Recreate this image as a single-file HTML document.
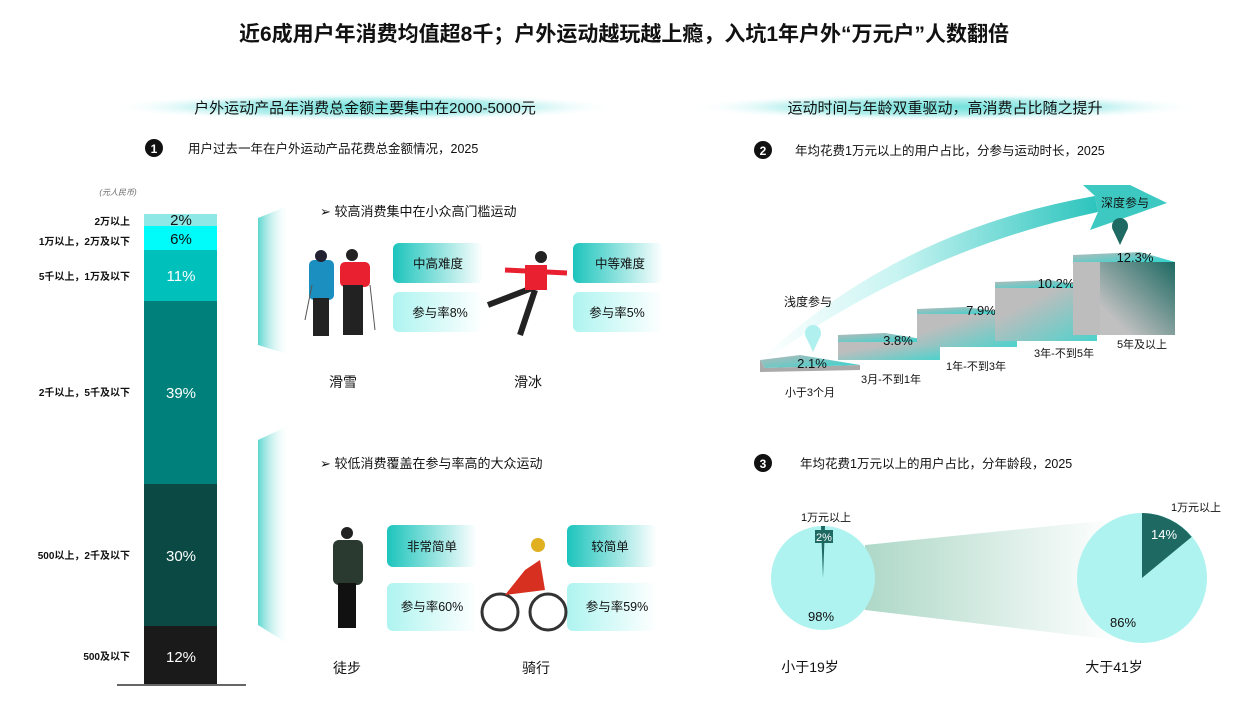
<!DOCTYPE html>
<html><head><meta charset="utf-8"><style>
body{margin:0;background:#fff;}
svg{display:block;font-family:"Liberation Sans","Noto Sans CJK SC",sans-serif;}
</style></head><body>
<svg width="1249" height="720" viewBox="0 0 1249 720">
<defs>
<radialGradient id="rib" cx="0.5" cy="0.5" r="0.5"><stop offset="0" stop-color="#6fe0da"/><stop offset="0.6" stop-color="#b8f0ee"/><stop offset="1" stop-color="#fff" stop-opacity="0"/></radialGradient>
<linearGradient id="tagd" x1="0" x2="1"><stop offset="0" stop-color="#1cc4bc"/><stop offset="1" stop-color="#fff"/></linearGradient>
<linearGradient id="tagl" x1="0" x2="1"><stop offset="0" stop-color="#aef4f0"/><stop offset="1" stop-color="#fff"/></linearGradient>
<linearGradient id="side" x1="0" x2="1"><stop offset="0" stop-color="#5ed6d0"/><stop offset="1" stop-color="#fff" stop-opacity="0"/></linearGradient>
<linearGradient id="conn" x1="0" x2="1"><stop offset="0" stop-color="#aed8c8"/><stop offset="1" stop-color="#fff"/></linearGradient>
<linearGradient id="arrow" x1="0" x2="1"><stop offset="0" stop-color="#fff"/><stop offset="0.4" stop-color="#c8f4f2"/><stop offset="1" stop-color="#2cc4bd"/></linearGradient>
<linearGradient id="boxt" x1="0" x2="1" y1="0" y2="1"><stop offset="0" stop-color="#b8b8b8"/><stop offset="1" stop-color="#2fd6d0"/></linearGradient>
<linearGradient id="boxf" x1="0" x2="1" y1="0" y2="1"><stop offset="0.3" stop-color="#bdbdbd"/><stop offset="1" stop-color="#4dd2cc"/></linearGradient>
<linearGradient id="boxf2" x1="0" x2="1" y1="1" y2="0"><stop offset="0.2" stop-color="#c0c0c0"/><stop offset="1" stop-color="#1e6962"/></linearGradient>
</defs>
<text x="624" y="41" font-size="21" font-weight="bold" text-anchor="middle" fill="#111">近6成用户年消费均值超8千；户外运动越玩越上瘾，入坑1年户外“万元户”人数翻倍</text>
<ellipse cx="365" cy="107" rx="255" ry="14" fill="url(#rib)"/>
<ellipse cx="945" cy="107" rx="255" ry="14" fill="url(#rib)"/>
<text x="365" y="113" font-size="15" text-anchor="middle" fill="#111">户外运动产品年消费总金额主要集中在2000-5000元</text>
<text x="945" y="113" font-size="15" text-anchor="middle" fill="#111">运动时间与年龄双重驱动，高消费占比随之提升</text>
<circle cx="154" cy="148" r="9" fill="#111"/><text x="154" y="153" font-size="12" font-weight="bold" fill="#fff" text-anchor="middle">1</text>
<text x="188" y="153" font-size="12.5" fill="#111">用户过去一年在户外运动产品花费总金额情况，2025</text>
<circle cx="763" cy="150" r="9" fill="#111"/><text x="763" y="155" font-size="12" font-weight="bold" fill="#fff" text-anchor="middle">2</text>
<text x="795" y="155" font-size="12.5" fill="#111">年均花费1万元以上的用户占比，分参与运动时长，2025</text>
<circle cx="763" cy="463" r="9" fill="#111"/><text x="763" y="468" font-size="12" font-weight="bold" fill="#fff" text-anchor="middle">3</text>
<text x="800" y="468" font-size="12.5" fill="#111">年均花费1万元以上的用户占比，分年龄段，2025</text>
<!-- bar -->
<text x="118" y="195" font-size="8" font-style="italic" fill="#666" text-anchor="middle">(元人民币)</text>
<rect x="144" y="214" width="73" height="12" fill="#8ee8e6"/>
<rect x="144" y="226" width="73" height="24" fill="#00fbfb"/>
<rect x="144" y="250" width="73" height="51" fill="#00c0bc"/>
<rect x="144" y="301" width="73" height="183" fill="#00807a"/>
<rect x="144" y="484" width="73" height="142" fill="#0b4a44"/>
<rect x="144" y="626" width="73" height="58" fill="#1a1a1a"/>
<line x1="117" y1="685" x2="246" y2="685" stroke="#333" stroke-width="1.5"/>
<g font-size="15" text-anchor="middle"><text x="181" y="225" fill="#111">2%</text><text x="181" y="244" fill="#111">6%</text><text x="181" y="281" fill="#fff">11%</text><text x="181" y="398" fill="#fff">39%</text><text x="181" y="561" fill="#fff">30%</text><text x="181" y="662" fill="#fff">12%</text></g>
<g font-size="10" text-anchor="end" fill="#111" font-weight="bold"><text x="130" y="225">2万以上</text><text x="130" y="245">1万以上，2万及以下</text><text x="130" y="280">5千以上，1万及以下</text><text x="130" y="396">2千以上，5千及以下</text><text x="130" y="559">500以上，2千及以下</text><text x="130" y="660">500及以下</text></g>
<polygon points="258,218 290,205 290,355 258,345" fill="url(#side)"/>
<polygon points="258,440 290,425 290,645 258,625" fill="url(#side)"/>
<text x="320" y="216" font-size="13" fill="#111">➢ 较高消费集中在小众高门槛运动</text>
<text x="320" y="468" font-size="13" fill="#111">➢ 较低消费覆盖在参与率高的大众运动</text>
<g font-size="12.5" fill="#111" text-anchor="middle">
<rect x="393" y="243" width="90" height="40" rx="6" fill="url(#tagd)"/><text x="438" y="268">中高难度</text>
<rect x="393" y="292" width="90" height="40" rx="6" fill="url(#tagl)"/><text x="440" y="317">参与率8%</text>
<rect x="573" y="243" width="90" height="40" rx="6" fill="url(#tagd)"/><text x="620" y="268">中等难度</text>
<rect x="573" y="292" width="90" height="40" rx="6" fill="url(#tagl)"/><text x="617" y="317">参与率5%</text>
<rect x="387" y="525" width="90" height="42" rx="6" fill="url(#tagd)"/><text x="432" y="551">非常简单</text>
<rect x="387" y="583" width="90" height="48" rx="6" fill="url(#tagl)"/><text x="432" y="611">参与率60%</text>
<rect x="567" y="525" width="90" height="42" rx="6" fill="url(#tagd)"/><text x="610" y="551">较简单</text>
<rect x="567" y="583" width="90" height="48" rx="6" fill="url(#tagl)"/><text x="617" y="611">参与率59%</text>
<text x="343" y="387" font-size="14">滑雪</text><text x="528" y="387" font-size="14">滑冰</text>
<text x="347" y="673" font-size="14">徒步</text><text x="536" y="673" font-size="14">骑行</text>
</g>
<!-- skiers -->
<g><rect x="309" y="260" width="25" height="40" rx="5" fill="#1a8fc0"/><rect x="313" y="298" width="16" height="38" fill="#222"/><circle cx="321" cy="256" r="6" fill="#223"/>
<rect x="340" y="262" width="30" height="25" rx="5" fill="#e82030"/><rect x="343" y="285" width="20" height="50" fill="#222"/><circle cx="352" cy="255" r="6" fill="#222"/>
<line x1="305" y1="320" x2="312" y2="285" stroke="#555"/><line x1="375" y1="330" x2="370" y2="285" stroke="#555"/></g>
<g><line x1="488" y1="305" x2="540" y2="285" stroke="#222" stroke-width="6"/><line x1="535" y1="290" x2="520" y2="335" stroke="#222" stroke-width="6"/>
<rect x="525" y="265" width="22" height="25" fill="#e82030"/><line x1="505" y1="270" x2="567" y2="273" stroke="#e82030" stroke-width="5"/><circle cx="541" cy="257" r="6" fill="#222"/></g>
<g><rect x="333" y="540" width="30" height="45" rx="6" fill="#2a3a30"/><rect x="338" y="583" width="18" height="45" fill="#111"/><circle cx="347" cy="533" r="6" fill="#222"/></g>
<g fill="none" stroke="#333" stroke-width="3"><circle cx="500" cy="612" r="18"/><circle cx="548" cy="612" r="18"/></g>
<path d="M505,595 L525,570 L540,560 L545,590" fill="#d83020"/><circle cx="538" cy="545" r="7" fill="#e0b020"/>
<!-- right steps -->
<path d="M762,358 Q900,230 1095,196 L1098,212 Q920,250 766,360 Z" fill="url(#arrow)"/>
<polygon points="1083,185 1130,185 1167,203 1090,230 1098,212 1095,196" fill="#3dc9c2"/>
<text x="1125" y="207" font-size="12" text-anchor="middle" fill="#111">深度参与</text>
<circle cx="1120" cy="226" r="8" fill="#1e6962"/><polygon points="1112,228 1128,228 1120,245" fill="#1e6962"/>
<text x="808" y="306" font-size="12" text-anchor="middle" fill="#111">浅度参与</text>
<circle cx="813" cy="333" r="8" fill="#b0f0ee"/><polygon points="805,335 821,335 813,352" fill="#b0f0ee"/>
<polygon points="760,360 800,355 860,365 765,368" fill="url(#boxt)"/><polygon points="760,360 765,368 860,365 860,370 760,372" fill="#aaa"/>
<text x="812" y="368" font-size="13" text-anchor="middle" fill="#111">2.1%</text>
<polygon points="838,335 885,333 940,342 838,342" fill="url(#boxt)"/><rect x="838" y="342" width="102" height="18" fill="url(#boxf)"/>
<text x="898" y="345" font-size="13" text-anchor="middle" fill="#111">3.8%</text>
<polygon points="917,309 965,307 1017,314 917,314" fill="url(#boxt)"/><rect x="917" y="314" width="100" height="33" fill="url(#boxf)"/>
<text x="981" y="315" font-size="13" text-anchor="middle" fill="#111">7.9%</text>
<polygon points="995,282 1050,280 1097,288 995,288" fill="url(#boxt)"/><rect x="995" y="288" width="102" height="53" fill="url(#boxf)"/>
<text x="1056" y="288" font-size="13" text-anchor="middle" fill="#111">10.2%</text>
<polygon points="1073,255 1140,252 1175,262 1073,262" fill="url(#boxt)"/><rect x="1100" y="262" width="75" height="73" fill="url(#boxf2)"/><rect x="1073" y="262" width="27" height="73" fill="#bdbdbd"/>
<text x="1135" y="262" font-size="13" text-anchor="middle" fill="#111">12.3%</text>
<g font-size="11" fill="#111" text-anchor="middle"><text x="810" y="396">小于3个月</text><text x="891" y="383">3月-不到1年</text><text x="976" y="370">1年-不到3年</text><text x="1064" y="357">3年-不到5年</text><text x="1142" y="348">5年及以上</text></g>
<!-- pies -->
<polygon points="865,545 1110,520 1115,640 865,610" fill="url(#conn)"/>
<circle cx="823" cy="578" r="52" fill="#aef3f0"/>
<polygon points="821,526 825,526 823,578" fill="#1e6962"/>
<rect x="815" y="530" width="18" height="13" fill="#1e6962"/><text x="824" y="541" font-size="11" fill="#fff" text-anchor="middle">2%</text>
<text x="826" y="521" font-size="11" fill="#111" text-anchor="middle">1万元以上</text>
<text x="821" y="621" font-size="13" fill="#111" text-anchor="middle">98%</text>
<circle cx="1142" cy="578" r="65" fill="#aef3f0"/>
<path d="M1142,578 L1142,513 A65,65 0 0 1 1191.7,536.9 Z" fill="#1e6962"/>
<text x="1164" y="539" font-size="13" fill="#fff" text-anchor="middle">14%</text>
<text x="1196" y="511" font-size="11" fill="#111" text-anchor="middle">1万元以上</text>
<text x="1123" y="627" font-size="13" fill="#111" text-anchor="middle">86%</text>
<text x="810" y="672" font-size="14" fill="#111" text-anchor="middle">小于19岁</text>
<text x="1114" y="672" font-size="14" fill="#111" text-anchor="middle">大于41岁</text>
</svg>
</body></html>
